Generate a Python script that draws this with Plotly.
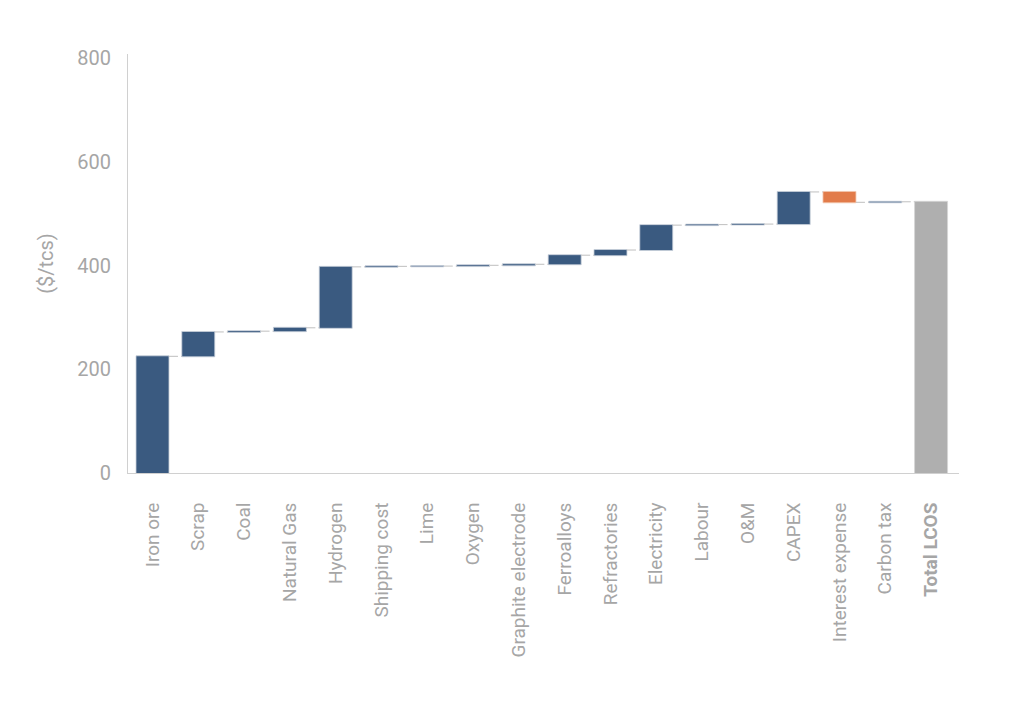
import plotly.graph_objects as go

# cost components of levelised cost of steel ($/tcs)
categories = ["Iron ore", "Scrap", "Coal", "Natural Gas", "Hydrogen", "Shipping cost",
              "Lime", "Oxygen", "Graphite electrode", "Ferroalloys", "Refractories",
              "Electricity", "Labour", "O&M", "CAPEX", "Interest expense", "Carbon tax",
              "Total LCOS"]
values = [225, 47, 1.5, 6.5, 117.5, 1, 0.5, 1.5, 2, 17.5, 10, 48, 1, 1, 62, -20, 1, 0]
measures = ["relative"] * 17 + ["total"]

tick_labels = categories[:-1] + ["<b>Total LCOS</b>"]

grey = "#A6A6A6"

fig = go.Figure(go.Waterfall(
    x=categories,
    y=values,
    measure=measures,
    increasing=dict(marker=dict(color="#3A5A80", line=dict(color="#C9D1DB", width=0.8))),
    decreasing=dict(marker=dict(color="#E27B4A", line=dict(color="#F2C6AE", width=0.8))),
    totals=dict(marker=dict(color="#AFAFAF", line=dict(color="#D6D6D6", width=0.8))),
    connector=dict(line=dict(color="#BFBFBF", width=1, dash="dashdot")),
    hoverinfo="x+y",
))

fig.update_layout(
    width=1010, height=704,
    margin=dict(l=120, r=59, t=46, b=239),
    plot_bgcolor="white", paper_bgcolor="white",
    waterfallgap=0.28,
    showlegend=False,
    font=dict(family="Roboto", color=grey, size=20),
)
fig.update_xaxes(
    range=[-0.535, 17.61],
    tickmode="array", tickvals=categories, ticktext=tick_labels,
    tickangle=-90, tickfont=dict(size=19, color=grey),
    ticklabelstandoff=21,
    showline=True, linecolor="#D0D0D0", linewidth=1,
    showgrid=False, ticks="",
)
fig.update_yaxes(
    range=[0, 808], tickvals=[0, 200, 400, 600, 800],
    tickfont=dict(size=20, color=grey),
    ticklabelstandoff=12,
    title=dict(text="($/tcs)", font=dict(size=20, color=grey), standoff=18),
    showline=True, linecolor="#D0D0D0", linewidth=1,
    showgrid=False, zeroline=False, ticks="",
)

fig.write_html("out.html")
